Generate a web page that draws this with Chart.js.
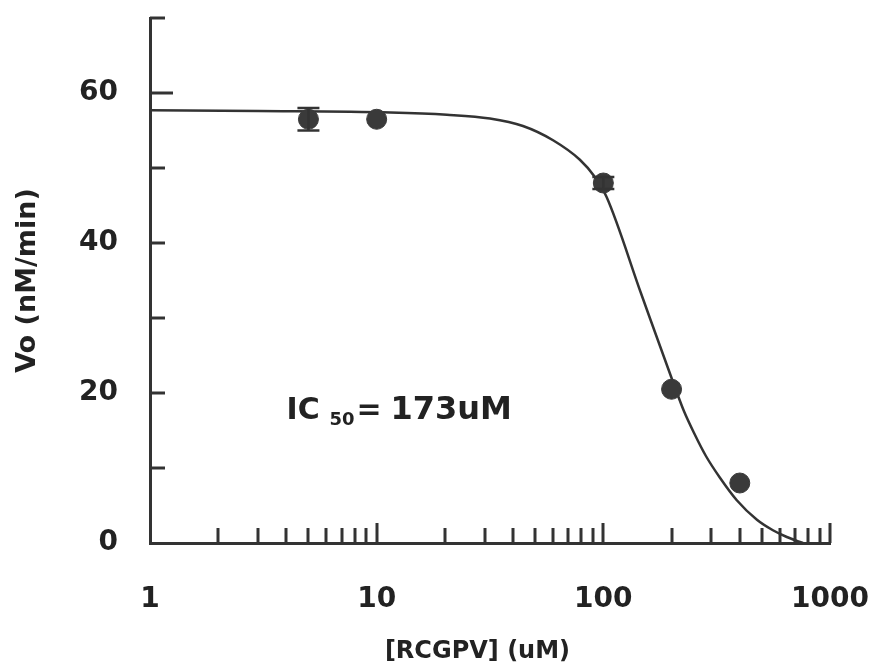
<!DOCTYPE html>
<html>
<head>
<meta charset="utf-8">
<script src="https://cdn.jsdelivr.net/npm/chart.js@4/dist/chart.umd.min.js"></script>
<style>
  html, body { margin: 0; padding: 0; background: #fff; }
  #wrap { width: 870px; height: 666px; }
</style>
</head>
<body>
<div id="wrap"><canvas id="ic50Chart" width="870" height="666"></canvas></div>
<script>
// Mesures : concentration de RCGPV (uM) et vitesse initiale (nM/min)
const concentrations = [5, 10, 100, 200, 400];
const velocities = [56.5, 56.5, 48, 20.5, 8];
const errors = [1.5, 0, 0.8, 0, 0];

// Courbe ajustée
const fitX = [1, 3, 11.5, 20.4, 31.6, 44.2, 60, 78.8, 91.8, 103.5, 146.6, 209, 226.7, 251, 283.5, 327, 388, 476, 560, 645, 760];
const fitY = [57.7, 57.6, 57.4, 57.1, 56.6, 55.6, 53.7, 51.1, 48.8, 46.1, 33.3, 20.4, 17.6, 14.7, 11.6, 8.7, 5.7, 3.1, 1.7, 0.8, 0];

// Graduations
const xLabels = [1, 10, 100, 1000];
const xMinorTicks = [2, 3, 4, 5, 6, 7, 8, 9, 20, 30, 40, 50, 60, 70, 80, 90, 200, 300, 400, 500, 600, 700, 800, 900];
const xMajorTicks = [10, 100, 1000];
const yLabels = [0, 20, 40, 60];
const yTicks = [10, 20, 30, 40, 50, 60, 70];

const ink = '#333333';
const fontFamily = '"DejaVu Sans", Verdana, sans-serif';

// Petites graduations vers l'intérieur, barres d'erreur et annotation IC50
const extras = {
    id: 'extras',
    afterDatasetsDraw(chart) {
        const ctx = chart.ctx;
        const x = chart.scales.x;
        const y = chart.scales.y;
        const area = chart.chartArea;
        ctx.save();
        ctx.strokeStyle = ink;
        ctx.lineWidth = 3;

        // graduations de l'axe x
        xMinorTicks.forEach(v => {
            const px = Math.round(x.getPixelForValue(v));
            ctx.beginPath();
            ctx.moveTo(px, area.bottom);
            ctx.lineTo(px, area.bottom - 15);
            ctx.stroke();
        });
        xMajorTicks.forEach(v => {
            const px = Math.round(x.getPixelForValue(v));
            ctx.beginPath();
            ctx.moveTo(px, area.bottom);
            ctx.lineTo(px, area.bottom - 20);
            ctx.stroke();
        });

        // graduations de l'axe y
        yTicks.forEach(v => {
            const py = Math.round(y.getPixelForValue(v));
            const len = v === 60 ? 23 : 15;
            ctx.beginPath();
            ctx.moveTo(area.left, py);
            ctx.lineTo(area.left + len, py);
            ctx.stroke();
        });

        // barres d'erreur
        ctx.lineWidth = 2.5;
        concentrations.forEach((c, i) => {
            if (!errors[i]) return;
            const px = x.getPixelForValue(c);
            const top = y.getPixelForValue(velocities[i] + errors[i]);
            const bot = y.getPixelForValue(velocities[i] - errors[i]);
            ctx.beginPath();
            ctx.moveTo(px, top); ctx.lineTo(px, bot);
            ctx.moveTo(px - 11, top); ctx.lineTo(px + 11, top);
            ctx.moveTo(px - 11, bot); ctx.lineTo(px + 11, bot);
            ctx.stroke();
        });

        // texte IC50
        const tx = x.getPixelForValue(4.0);
        const ty = y.getPixelForValue(17.6);
        ctx.fillStyle = '#222';
        ctx.textBaseline = 'middle';
        ctx.textAlign = 'left';
        ctx.font = 'bold 30px ' + fontFamily;
        ctx.fillText('IC', tx, ty);
        ctx.font = 'bold 18px ' + fontFamily;
        ctx.fillText('50', tx + 43, ty + 9);
        ctx.font = 'bold 30px ' + fontFamily;
        ctx.fillText('=', tx + 70, ty);
        ctx.font = 'bold 32px ' + fontFamily;
        ctx.fillText('173uM', tx + 104, ty);
        ctx.restore();
    }
};

// pas de marge automatique autour des échelles
function noPadding(scale) {
    scale.paddingLeft = 0;
    scale.paddingRight = 0;
    scale.paddingTop = 0;
    scale.paddingBottom = 0;
}

document.addEventListener('DOMContentLoaded', function() {
    const ctx = document.getElementById('ic50Chart').getContext('2d');
    new Chart(ctx, {
        type: 'scatter',
        data: {
            datasets: [
                {
                    label: 'Ajustement',
                    type: 'line',
                    data: fitX.map((v, i) => ({ x: v, y: fitY[i] })),
                    borderColor: ink,
                    borderWidth: 2.5,
                    pointRadius: 0,
                    cubicInterpolationMode: 'monotone',
                    fill: false,
                    order: 2
                },
                {
                    label: 'Mesures',
                    data: concentrations.map((v, i) => ({ x: v, y: velocities[i] })),
                    backgroundColor: '#3a3a3a',
                    borderColor: '#3a3a3a',
                    pointRadius: 10,
                    order: 1
                }
            ]
        },
        options: {
            responsive: false,
            animation: false,
            layout: { autoPadding: false, padding: { left: 0, right: 40, top: 18, bottom: 0 } },
            plugins: {
                legend: { display: false },
                tooltip: { enabled: false }
            },
            scales: {
                x: {
                    type: 'logarithmic',
                    min: 1,
                    max: 1000,
                    afterBuildTicks: scale => {
                        scale.ticks = xLabels.map(v => ({ value: v }));
                    },
                    afterFit: scale => { scale.height = 123; noPadding(scale); },
                    grid: { display: false, drawTicks: false },
                    border: { display: true, color: ink, width: 3 },
                    ticks: {
                        padding: 40,
                        color: '#222',
                        maxRotation: 0,
                        autoSkip: false,
                        font: { family: fontFamily, size: 28, weight: 'bold' },
                        callback: v => String(v)
                    },
                    title: {
                        display: true,
                        text: '[RCGPV] (uM)   ',
                        color: '#222',
                        padding: { top: 0, bottom: 0 },
                        font: { family: fontFamily, size: 24, weight: 'bold' }
                    }
                },
                y: {
                    min: 0,
                    max: 70,
                    afterBuildTicks: scale => {
                        scale.ticks = yLabels.map(v => ({ value: v }));
                    },
                    afterFit: scale => { scale.width = 150; noPadding(scale); },
                    grid: { display: false, drawTicks: false },
                    border: { display: true, color: ink, width: 3 },
                    ticks: {
                        padding: 32,
                        color: '#222',
                        font: { family: fontFamily, size: 28, weight: 'bold' }
                    },
                    title: {
                        display: true,
                        text: 'Vo (nM/min)',
                        color: '#222',
                        padding: { top: 12, bottom: 0 },
                        font: { family: fontFamily, size: 27, weight: 'bold' }
                    }
                }
            }
        },
        plugins: [extras]
    });
});
</script>
</body>
</html>
